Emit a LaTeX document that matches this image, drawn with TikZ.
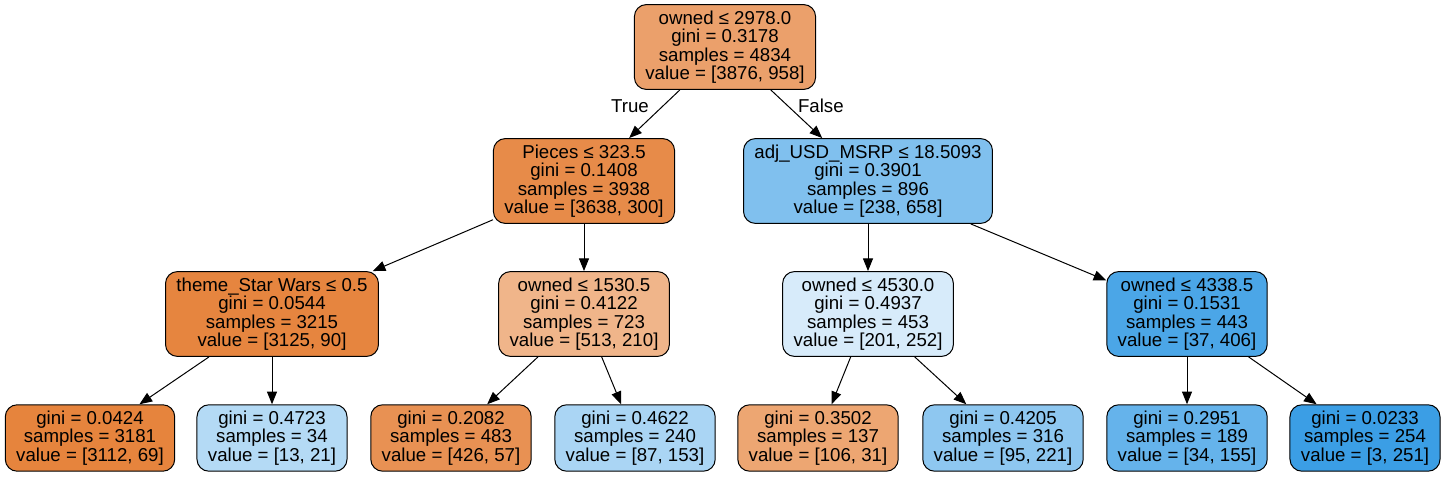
\documentclass[tikz,border=0pt]{standalone}
\usepackage{fontspec}
\setmainfont{Liberation Sans}
\usetikzlibrary{arrows.meta}
\definecolor{gorange}{RGB}{229,129,57}
\definecolor{gblue}{RGB}{57,157,229}
\tikzset{
treenode/.style={
	  draw, rounded corners=9pt, align=center, line width=0.75pt,
	    inner xsep=8.2pt, inner ysep=4.6pt, font=\fontsize{14}{13.8}\selectfont},
treeedge/.style={-{Triangle[length=9.5pt,width=7.5pt]}, line width=0.75pt}
}
\newcommand{\stats}[3]{gini = #1\\samples = #2\\value = [#3]}

\begin{document}
\begin{tikzpicture}[x=0.75pt, y=-0.75pt]
	\useasboundingbox (0,0) rectangle (1446,477);
	% root and first split
	\node[treenode, fill=gorange!75!white] (root) at (725,47) {owned ≤ 2978.0\\\stats{0.3178}{4834}{3876, 958}};
	\node[treenode, fill=gorange!92!white] (pieces) at (584,181) {Pieces ≤ 323.5\\\stats{0.1408}{3938}{3638, 300}};
	\node[treenode, fill=gblue!64!white] (msrp) at (868,181) {adj\_USD\_MSRP ≤ 18.5093\\\stats{0.3901}{896}{238, 658}};
	% second level
	\node[treenode, fill=gorange!97!white] (starwars) at (272,314) {theme\_Star Wars ≤ 0.5\\\stats{0.0544}{3215}{3125, 90}};
	\node[treenode, fill=gorange!59!white] (ownedA) at (584,314) {owned ≤ 1530.5\\\stats{0.4122}{723}{513, 210}};
	\node[treenode, fill=gblue!20!white] (ownedB) at (868,314) {owned ≤ 4530.0\\\stats{0.4937}{453}{201, 252}};
	\node[treenode, fill=gblue!91!white] (ownedC) at (1187,314) {owned ≤ 4338.5\\\stats{0.1531}{443}{37, 406}};
	% leaves
	\node[treenode, fill=gorange!98!white] (leafA) at (90,438) {\stats{0.0424}{3181}{3112, 69}};
	\node[treenode, fill=gblue!38!white] (leafB) at (272,438) {\stats{0.4723}{34}{13, 21}};
	\node[treenode, fill=gorange!87!white] (leafC) at (451,438) {\stats{0.2082}{483}{426, 57}};
	\node[treenode, fill=gblue!43!white] (leafD) at (635,438) {\stats{0.4622}{240}{87, 153}};
	\node[treenode, fill=gorange!71!white] (leafE) at (818,438) {\stats{0.3502}{137}{106, 31}};
	\node[treenode, fill=gblue!57!white] (leafF) at (1003,438) {\stats{0.4205}{316}{95, 221}};
	\node[treenode, fill=gblue!78!white] (leafG) at (1187,438) {\stats{0.2951}{189}{34, 155}};
	\node[treenode, fill=gblue!99!white] (leafH) at (1365,438) {\stats{0.0233}{254}{3, 251}};
	% edges
	\draw[treeedge] (root) -- node[pos=0.33, left=7pt, font=\fontsize{14}{16}\selectfont] {True} (pieces);
	\draw[treeedge] (root) -- node[pos=0.33, right=4pt, font=\fontsize{14}{16}\selectfont] {False} (msrp);
	\draw[treeedge] (pieces) -- (starwars);
	\draw[treeedge] (pieces) -- (ownedA);
	\draw[treeedge] (msrp) -- (ownedB);
	\draw[treeedge] (msrp) -- (ownedC);
	\draw[treeedge] (starwars) -- (leafA);
	\draw[treeedge] (starwars) -- (leafB);
	\draw[treeedge] (ownedA) -- (leafC);
	\draw[treeedge] (ownedA) -- (leafD);
	\draw[treeedge] (ownedB) -- (leafE);
	\draw[treeedge] (ownedB) -- (leafF);
	\draw[treeedge] (ownedC) -- (leafG);
	\draw[treeedge] (ownedC) -- (leafH);
\end{tikzpicture}
\end{document}
